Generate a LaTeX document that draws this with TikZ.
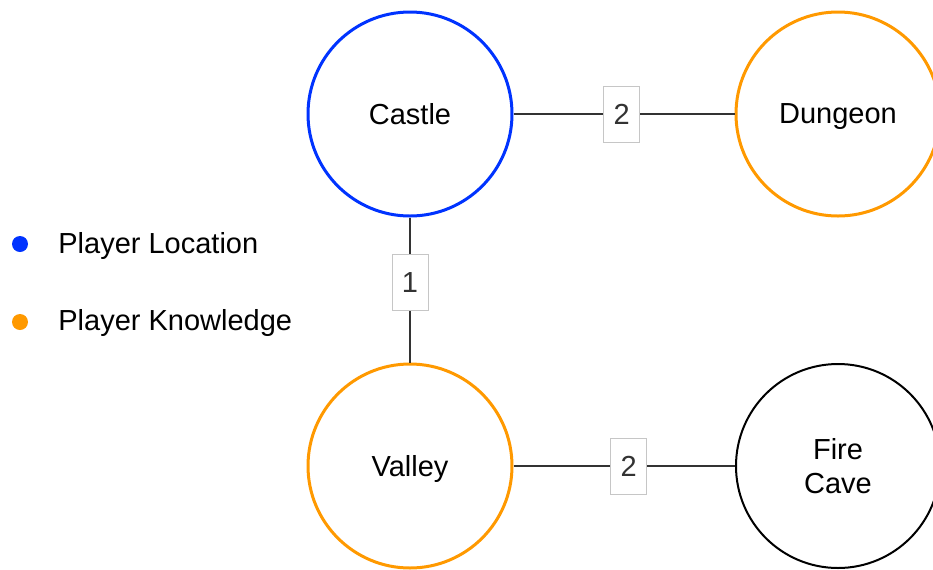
\documentclass[tikz,border=0pt]{standalone}
\usepackage{fontspec}
\setmainfont{Liberation Sans}
\definecolor{locblue}{HTML}{0033FF}
\definecolor{knoworange}{HTML}{FF9900}
\tikzset{
  place/.style={circle, draw, line width=1.5pt, minimum size=102pt, inner sep=0pt,
    align=center, text depth=0pt, font=\fontsize{14.5}{17}\selectfont},
  weight/.style={draw=gray!45, line width=0.5pt, fill=white, minimum width=18pt,
    minimum height=28pt, inner sep=0pt, font=\fontsize{14.5}{17}\selectfont},
  dot/.style={circle, fill, minimum size=8pt, inner sep=0pt},
  legend/.style={anchor=west, inner sep=0pt, font=\fontsize{14.5}{17}\selectfont}
}
\begin{document}
\begin{tikzpicture}[x=0.5pt, y=-0.5pt]
      \useasboundingbox (0,0) rectangle (933,569);
      \draw
        (410,114) node[place, draw=locblue] (castle){Castle}
        (838,114) node[place, draw=knoworange] (dungeon){Dungeon}
        (410,466) node[place, draw=knoworange] (valley){Valley}
        (838,466) node[place, line width=1pt] (cave){Fire\\Cave};
      \draw
        (20,244) node[dot, locblue] (d1){}
        (58,246) node[legend] (l1){Player Location}
        (20,322) node[dot, knoworange] (d2){}
        (58,323) node[legend] (l2){Player Knowledge};
      \begin{scope}[-, line width=1pt, black!80]
        \draw (castle) to node[weight, pos=0.49]{2} (dungeon);
        \draw (castle) to node[weight, pos=0.45]{1} (valley);
        \draw (valley) to node[weight, pos=0.52]{2} (cave);
      \end{scope}
    \end{tikzpicture}
\end{document}
